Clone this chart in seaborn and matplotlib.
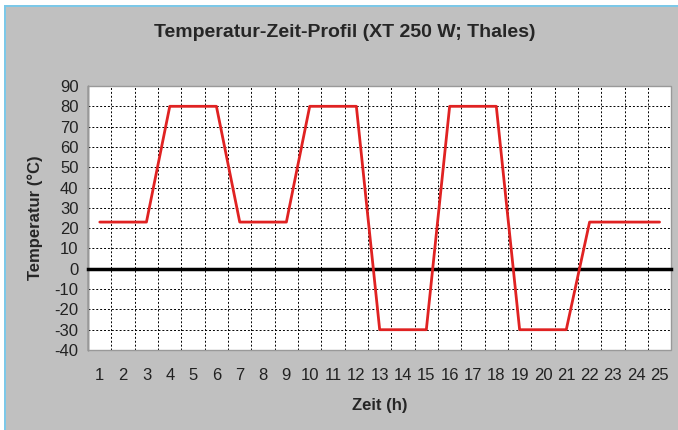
import pandas as pd
import matplotlib.pyplot as plt
import seaborn as sns
from matplotlib.patches import Rectangle

# Daten
stunden = list(range(1, 26))
temperatur = [23, 23, 23, 80, 80, 80, 23, 23, 23, 80, 80, 80,
              -30, -30, -30, 80, 80, 80, -30, -30, -30, 23, 23, 23, 23]
y_ticks = list(range(-40, 91, 10))

df = pd.DataFrame({'Zeit': stunden, 'Temperatur': temperatur})

sns.set_style('white')
plt.rcParams['font.family'] = ['Liberation Sans', 'DejaVu Sans']

fig = plt.figure(figsize=(6.78, 4.3), dpi=100)
fig.patch.set_facecolor('#c0c0c0')

# Rahmen des Screenshots (weiss + hellblau)
fig.patches.append(Rectangle((0, 0), 0.006, 1, transform=fig.transFigure,
                             facecolor='white', edgecolor='none', zorder=0))
fig.patches.append(Rectangle((0, 0.988), 1, 0.012, transform=fig.transFigure,
                             facecolor='white', edgecolor='none', zorder=0))
fig.patches.append(Rectangle((0.006, 0), 0.003, 0.988, transform=fig.transFigure,
                             facecolor='#7cc8e8', edgecolor='none', zorder=1))
fig.patches.append(Rectangle((0.006, 0.983), 0.994, 0.005, transform=fig.transFigure,
                             facecolor='#7cc8e8', edgecolor='none', zorder=1))

ax = fig.add_axes([0.130, 0.186, 0.860, 0.614])
ax.set_facecolor('white')

sns.lineplot(data=df, x='Zeit', y='Temperatur', color='#e02222',
             linewidth=2, ax=ax, zorder=5)

ax.set_xlim(0.5, 25.5)
ax.set_ylim(-40, 90)
ax.set_yticks(y_ticks)
ax.set_yticklabels([str(v) for v in y_ticks], fontsize=12, color='#222222')

# Kategoriegrenzen als Ticks / Gitter
grenzen = [s + 0.5 for s in stunden[:-1]]
ax.set_xticks(grenzen)
ax.set_xticklabels([])
ax.tick_params(axis='x', direction='inout', length=7, width=1.5, color='black')
ax.tick_params(axis='y', direction='out', length=4, width=1, color='#333333', pad=3)
ax.grid(True, color='black', linestyle=(0, (2, 2)), linewidth=0.7)

for s in ['top', 'right']:
    ax.spines[s].set_visible(False)
ax.spines['left'].set_color('#333333')
ax.spines['left'].set_linewidth(1)
ax.spines['bottom'].set_position(('data', 0))
ax.spines['bottom'].set_linewidth(2.5)
ax.spines['bottom'].set_color('black')
ax.spines['bottom'].set_zorder(4)
ax.add_patch(Rectangle((0, 0), 1, 1, transform=ax.transAxes, fill=False,
                       edgecolor='#999999', linewidth=1, zorder=3, clip_on=False))

# Beschriftung der Stunden unten
sec = ax.secondary_xaxis(0)
sec.set_xticks(stunden)
sec.set_xticklabels([str(s) for s in stunden], fontsize=12, color='#222222')
sec.tick_params(length=0, pad=13)
sec.spines['bottom'].set_visible(False)

ax.set_xlabel('')
ax.set_ylabel('Temperatur (°C)', fontsize=12, fontweight='bold', labelpad=8)
fig.text(0.56, 0.058, 'Zeit (h)', ha='center', va='center',
         fontsize=12, fontweight='bold')
fig.text(0.509, 0.924, 'Temperatur-Zeit-Profil (XT 250 W; Thales)', ha='center',
         va='center', fontsize=14, fontweight='bold')

fig.savefig('out.png', dpi=100, facecolor=fig.get_facecolor())
